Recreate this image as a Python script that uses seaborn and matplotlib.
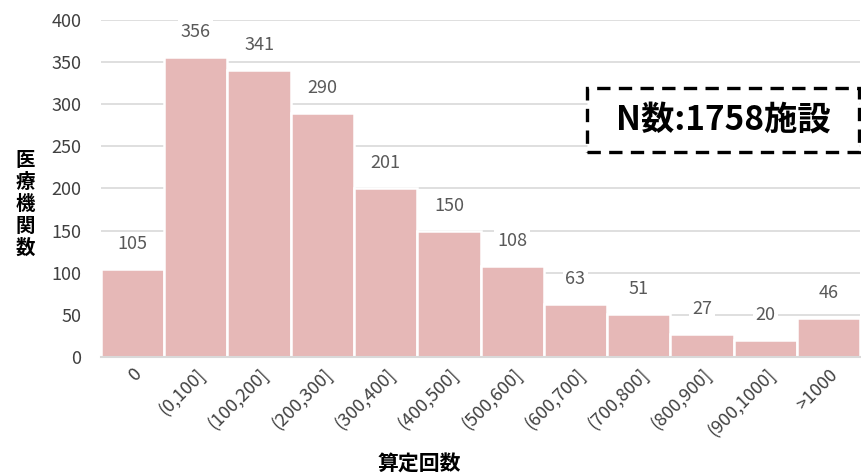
import matplotlib
matplotlib.use("Agg")
import matplotlib.pyplot as plt
import seaborn as sns
import pandas as pd
from matplotlib.patches import Rectangle

categories = ["0", "(0,100]", "(100,200]", "(200,300]", "(300,400]", "(400,500]",
              "(500,600]", "(600,700]", "(700,800]", "(800,900]", "(900,1000]", ">1000"]
counts = [105, 356, 341, 290, 201, 150, 108, 63, 51, 27, 20, 46]
y_ticks = [0, 50, 100, 150, 200, 250, 300, 350, 400]

sns.set_theme(style="white")
plt.rcParams["font.family"] = ["Noto Sans CJK JP", "DejaVu Sans"]

df = pd.DataFrame({"range": categories, "count": counts})

fig = plt.figure(figsize=(8.62, 4.76), dpi=100)
ax = fig.add_axes([0.117, 0.25, 0.881, 0.708])

sns.barplot(data=df, x="range", y="count", color="#E6B8B7", saturation=1,
            width=1.0, edgecolor="white", linewidth=1.8, ax=ax, zorder=2)

ax.set_ylim(0, 400)
ax.set_xlim(-0.5, len(categories) - 0.5)
ax.set_yticks(y_ticks)
ax.yaxis.grid(True, color="#D9D9D9", linewidth=1.2, zorder=0)
ax.set_axisbelow(True)
for s in ["top", "right", "left"]:
    ax.spines[s].set_visible(False)
ax.spines["bottom"].set_color("#D9D9D9")
ax.spines["bottom"].set_linewidth(1.5)
ax.spines["bottom"].set_zorder(3)

ax.tick_params(axis="y", labelsize=13, labelcolor="#404040", length=0, pad=14)
ax.tick_params(axis="x", labelsize=13, labelcolor="#404040", length=0, pad=6)
plt.setp(ax.get_xticklabels(), rotation=45, ha="right", rotation_mode="anchor")

for i, v in enumerate(counts):
    ax.annotate(str(v), (i, v), xytext=(0, 25), textcoords="offset pixels",
                ha="center", va="center", fontsize=13, color="#595959",
                bbox=dict(boxstyle="square,pad=0.15", fc="white", ec="none"), zorder=4)

ax.set_xlabel("")
ax.set_ylabel("")
fig.text(0.487, 0.025, "算定回数", fontsize=15, fontweight="bold", color="black",
         ha="center", va="center")
fig.text(0.029, 0.57, "医\n療\n機\n関\n数", fontsize=14, fontweight="bold", color="black",
         ha="center", va="center", linespacing=1.2)

# sample size box
fig.patches.append(Rectangle((0.681, 0.681), 0.316, 0.134, transform=fig.transFigure,
                             fc="white", ec="black", lw=2.4, ls=(0, (4, 2.5)), zorder=5))
fig.text(0.839, 0.748, "N数:1758施設", fontsize=24, fontweight="bold", color="black",
         ha="center", va="center", zorder=6)

fig.savefig("out.png", dpi=100)
